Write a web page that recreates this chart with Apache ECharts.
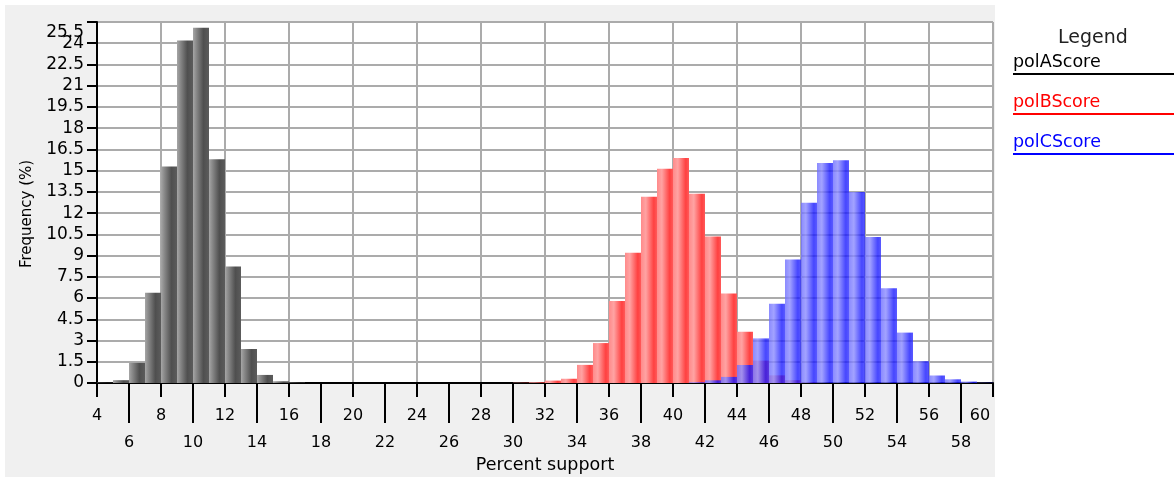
<!DOCTYPE html>
<html><head><meta charset="utf-8">
<script src="https://cdn.jsdelivr.net/npm/echarts@6/dist/echarts.min.js"></script>
<style>html,body{margin:0;padding:0;background:#fff}#c{width:1174px;height:479px}</style>
</head><body><div id="c"></div>
<script>
const seriesNames = ['polAScore', 'polBScore', 'polCScore'];
const binWidth = 1;
const polABins = [4, 5, 6, 7, 8, 9, 10, 11, 12, 13, 14, 15, 16];
const polAValues = [0.02, 0.2, 1.42, 6.37, 15.3, 24.2, 25.1, 15.8, 8.23, 2.4, 0.57, 0.12, 0.03];
const polBBins = [30, 31, 32, 33, 34, 35, 36, 37, 38, 39, 40, 41, 42, 43, 44, 45, 46, 47, 48];
const polBValues = [0.02, 0.05, 0.17, 0.3, 1.28, 2.82, 5.8, 9.2, 13.16, 15.14, 15.9, 13.37, 10.35, 6.32, 3.62, 1.58, 0.54, 0.2, 0.04];
const polCBins = [41, 42, 43, 44, 45, 46, 47, 48, 49, 50, 51, 52, 53, 54, 55, 56, 57, 58, 59];
const polCValues = [0.05, 0.19, 0.43, 1.27, 3.15, 5.6, 8.73, 12.74, 15.54, 15.73, 13.49, 10.31, 6.7, 3.56, 1.54, 0.53, 0.26, 0.1, 0.02];
const xUpperTicks = [4, 8, 12, 16, 20, 24, 28, 32, 36, 40, 44, 48, 52, 56, 60];
const xLowerTicks = [6, 10, 14, 18, 22, 26, 30, 34, 38, 42, 46, 50, 54, 58];
const yMax = 25.5, yStep = 1.5;

const FONT = 'DejaVu Sans';
const XLBL = 16, YLBL = 17;
const chart = echarts.init(document.getElementById('c'));

function grad(stops) {
  return { type: 'linear', x: 0, y: 0, x2: 1, y2: 0,
    colorStops: stops.map(s => ({ offset: s[0], color: s[1] })) };
}
const fills = [
  grad([[0, '#a6a6a6'], [0.2, '#8a8a8a'], [0.65, '#4f4f4f'], [1, '#5c5c5c']]),
  grad([[0, '#ff8a8a'], [0.3, '#ffa3a3'], [0.8, '#ff4040'], [1, '#ff5a5a']]),
  grad([[0, '#6d6dff'], [0.3, '#8c8cff'], [0.8, '#1818ff'], [1, '#3131ff']])
];
const opac = [1, 1, 0.8];

function makeRender(idx) {
  return function (params, api) {
    const x0 = api.value(0), v = api.value(1);
    const a = api.coord([x0, 0]);
    const b = api.coord([x0 + binWidth, v]);
    return { type: 'rect',
      shape: { x: a[0], y: b[1], width: b[0] - a[0], height: a[1] - b[1] },
      style: { fill: fills[idx], opacity: opac[idx] } };
  };
}
const allBins = [polABins, polBBins, polCBins];
const allVals = [polAValues, polBValues, polCValues];
const series = seriesNames.map((n, i) => ({
  name: n, type: 'custom', xAxisIndex: 0, yAxisIndex: 0, z: 3 + i,
  renderItem: makeRender(i),
  encode: { x: 0, y: 1 },
  data: allBins[i].map((b, k) => [b, allVals[i][k]])
}));

const legendColors = ['#000000', '#ff0000', '#0000ff'];
const legendY = [74, 114, 154];
const graphic = [
  { type: 'rect', z: -100, shape: { x: 5, y: 5, width: 990, height: 472 }, style: { fill: '#f0f0f0' } },
  { type: 'text', x: 1093, y: 38, style: { text: 'Legend', fontSize: 19, fontFamily: FONT, fill: '#222', align: 'center', verticalAlign: 'middle' } },
  { type: 'text', x: 27, y: 214, rotation: Math.PI / 2, style: { text: 'Frequency (%)', fontSize: 15, fontFamily: FONT, fill: '#000', align: 'center', verticalAlign: 'middle' } },
  { type: 'text', x: 84, y: 33, style: { text: String(yMax), fontSize: YLBL, fontFamily: FONT, fill: '#000', align: 'right', verticalAlign: 'middle' } }
];
seriesNames.forEach((n, i) => {
  graphic.push({ type: 'text', x: 1013, y: legendY[i] - 12, style: { text: n, fontSize: 17.5, fontFamily: FONT, fill: legendColors[i], align: 'left', verticalAlign: 'middle' } });
  graphic.push({ type: 'line', shape: { x1: 1013, y1: legendY[i], x2: 1174, y2: legendY[i] }, style: { stroke: legendColors[i], lineWidth: 2 } });
});

chart.setOption({
  backgroundColor: '#ffffff',
  animation: false,
  grid: { left: 97, right: 181, top: 22, bottom: 96, show: true, backgroundColor: '#ffffff', borderWidth: 0 },
  xAxis: [{
    type: 'value', min: 4, max: 60, interval: 2, position: 'bottom',
    name: 'Percent support', nameLocation: 'middle', nameGap: 73,
    nameTextStyle: { fontSize: 17.5, fontFamily: FONT, color: '#000' },
    axisLine: { show: true, lineStyle: { color: '#000', width: 2 } },
    axisTick: { show: true, customValues: xUpperTicks, length: 14, lineStyle: { color: '#000', width: 2 } },
    axisLabel: { customValues: xUpperTicks, margin: 25, fontSize: XLBL, fontFamily: FONT, color: '#000', hideOverlap: false,
      showMinLabel: true, showMaxLabel: true,
      formatter: v => v === 60 ? '{e|60}' : String(v), rich: { e: { fontSize: XLBL, fontFamily: FONT, color: '#000', padding: [0, 26, 0, 0] } } },
    splitLine: { show: true, lineStyle: { color: '#ababab', width: 2 } }
  }, {
    type: 'value', min: 4, max: 60, position: 'bottom',
    axisLine: { show: false },
    axisTick: { show: true, customValues: xLowerTicks, length: 40, lineStyle: { color: '#000', width: 2 } },
    axisLabel: { customValues: xLowerTicks, margin: 52, fontSize: XLBL, fontFamily: FONT, color: '#000', hideOverlap: false },
    splitLine: { show: false }
  }],
  yAxis: {
    type: 'value', min: 0, max: yMax, interval: yStep,
    axisLine: { show: true, lineStyle: { color: '#000', width: 2 } },
    axisTick: { show: true, length: 10, lineStyle: { color: '#000', width: 2 } },
    axisLabel: { margin: 13, fontSize: YLBL, fontFamily: FONT, color: '#000', hideOverlap: false,
      formatter: v => v === yMax ? '' : String(v) },
    splitLine: { show: true, lineStyle: { color: '#ababab', width: 2 } }
  },
  graphic: graphic,
  series: series
});
</script></body></html>
